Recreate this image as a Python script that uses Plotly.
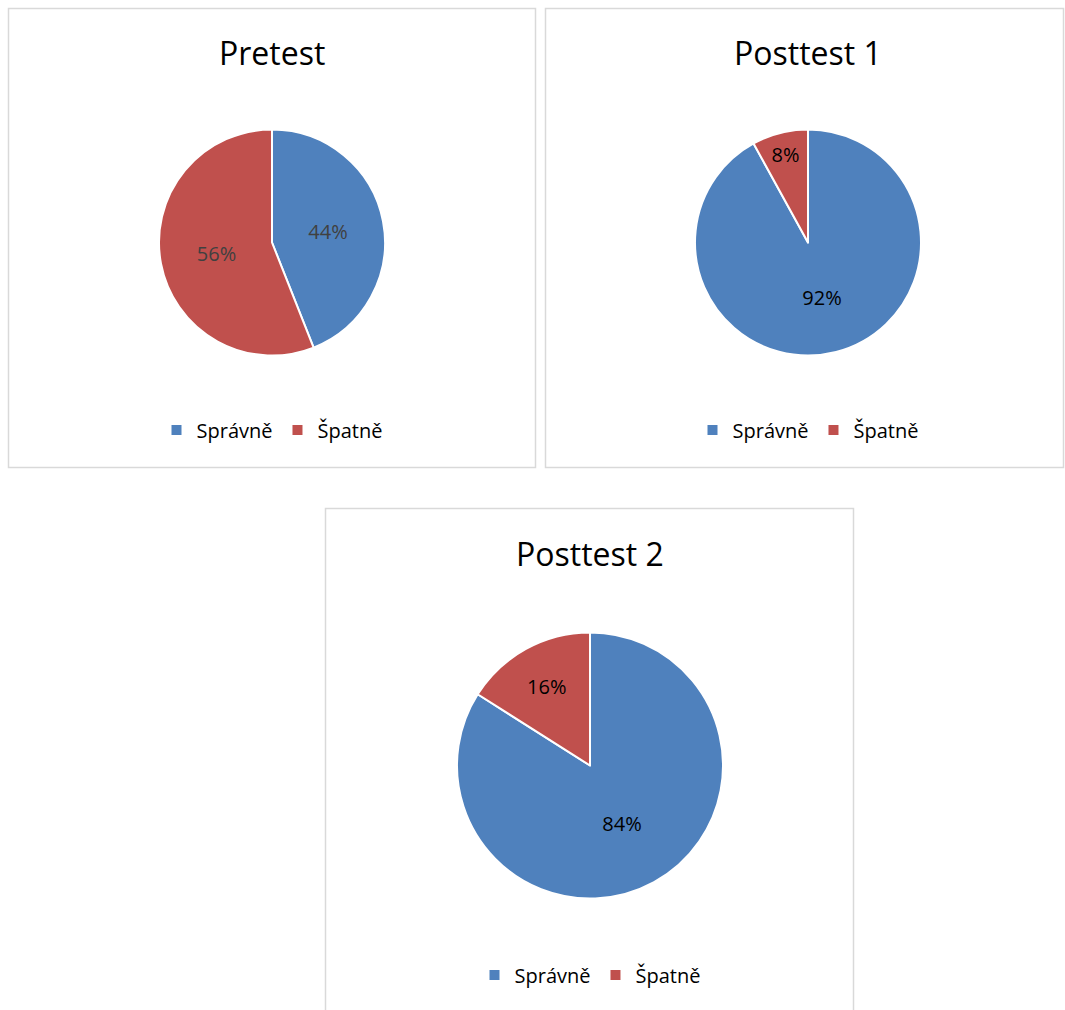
import plotly.graph_objects as go

W, H = 1065, 1010

categories = ["Správně", "Špatně"]
titles = ["Pretest", "Posttest 1", "Posttest 2"]
pretest = [44, 56]
posttest1 = [92, 8]
posttest2 = [84, 16]
series = [pretest, posttest1, posttest2]

colors = ["#4F81BD", "#C0504D"]
label_colors = ["#404040", "#000000", "#000000"]

# layout geometry (pixels)
panels = [(8.5, 8.5, 535.5, 467.5), (545.5, 8.5, 1063.5, 467.5), (325.5, 508.5, 853.5, 1020)]
centers = [(272, 242.5, 113), (808, 242.5, 113), (590, 765.5, 133)]
title_y = [52, 52, 553]
legend_y = [430, 430, 975]

def px(x):
    return x / W

def py(y):
    return 1 - y / H

fig = go.Figure()
FONT = "Open Sans"

for i, vals in enumerate(series):
    cx, cy, r = centers[i]
    leg = "legend" if i == 0 else f"legend{i+1}"
    # zero-width suffix keeps each chart's legend entries separate
    labs = [c + "\u200b" * i for c in categories]
    fig.add_trace(go.Pie(
        labels=labs,
        values=vals,
        sort=False,
        direction="clockwise",
        rotation=0,
        marker=dict(colors=colors, line=dict(color="white", width=2)),
        texttemplate="%{value}%",
        textposition="inside",
        insidetextorientation="horizontal",
        textfont=dict(family=FONT, size=20, color=label_colors[i]),
        domain=dict(x=[px(cx - r), px(cx + r)], y=[py(cy + r), py(cy - r)]),
        legend=leg,
        hoverinfo="label+percent",
    ))

shapes = []
for (x0, y0, x1, y1) in panels:
    shapes.append(dict(type="rect", xref="paper", yref="paper",
                       x0=px(x0), x1=px(x1), y0=py(y1), y1=py(y0),
                       line=dict(color="#D9D9D9", width=1.5), fillcolor="rgba(0,0,0,0)"))

annotations = []
for i, t in enumerate(titles):
    cx = centers[i][0]
    annotations.append(dict(text=t, x=px(cx), y=py(title_y[i]), xref="paper", yref="paper",
                            xanchor="center", yanchor="middle", showarrow=False,
                            font=dict(family=FONT, size=32, color="#000000")))

legend_common = dict(orientation="h", xanchor="center", yanchor="middle",
                     font=dict(family=FONT, size=20, color="#000000"),
                     bgcolor="rgba(0,0,0,0)", itemsizing="constant")

layout_kwargs = dict(
    width=W, height=H,
    margin=dict(l=0, r=0, t=0, b=0),
    paper_bgcolor="white",
    plot_bgcolor="white",
    shapes=shapes,
    annotations=annotations,
    showlegend=True,
)
for i in range(3):
    key = "legend" if i == 0 else f"legend{i+1}"
    layout_kwargs[key] = dict(x=px(centers[i][0]), y=py(legend_y[i]), **legend_common)

fig.update_layout(**layout_kwargs)
fig.write_html("out.html")
